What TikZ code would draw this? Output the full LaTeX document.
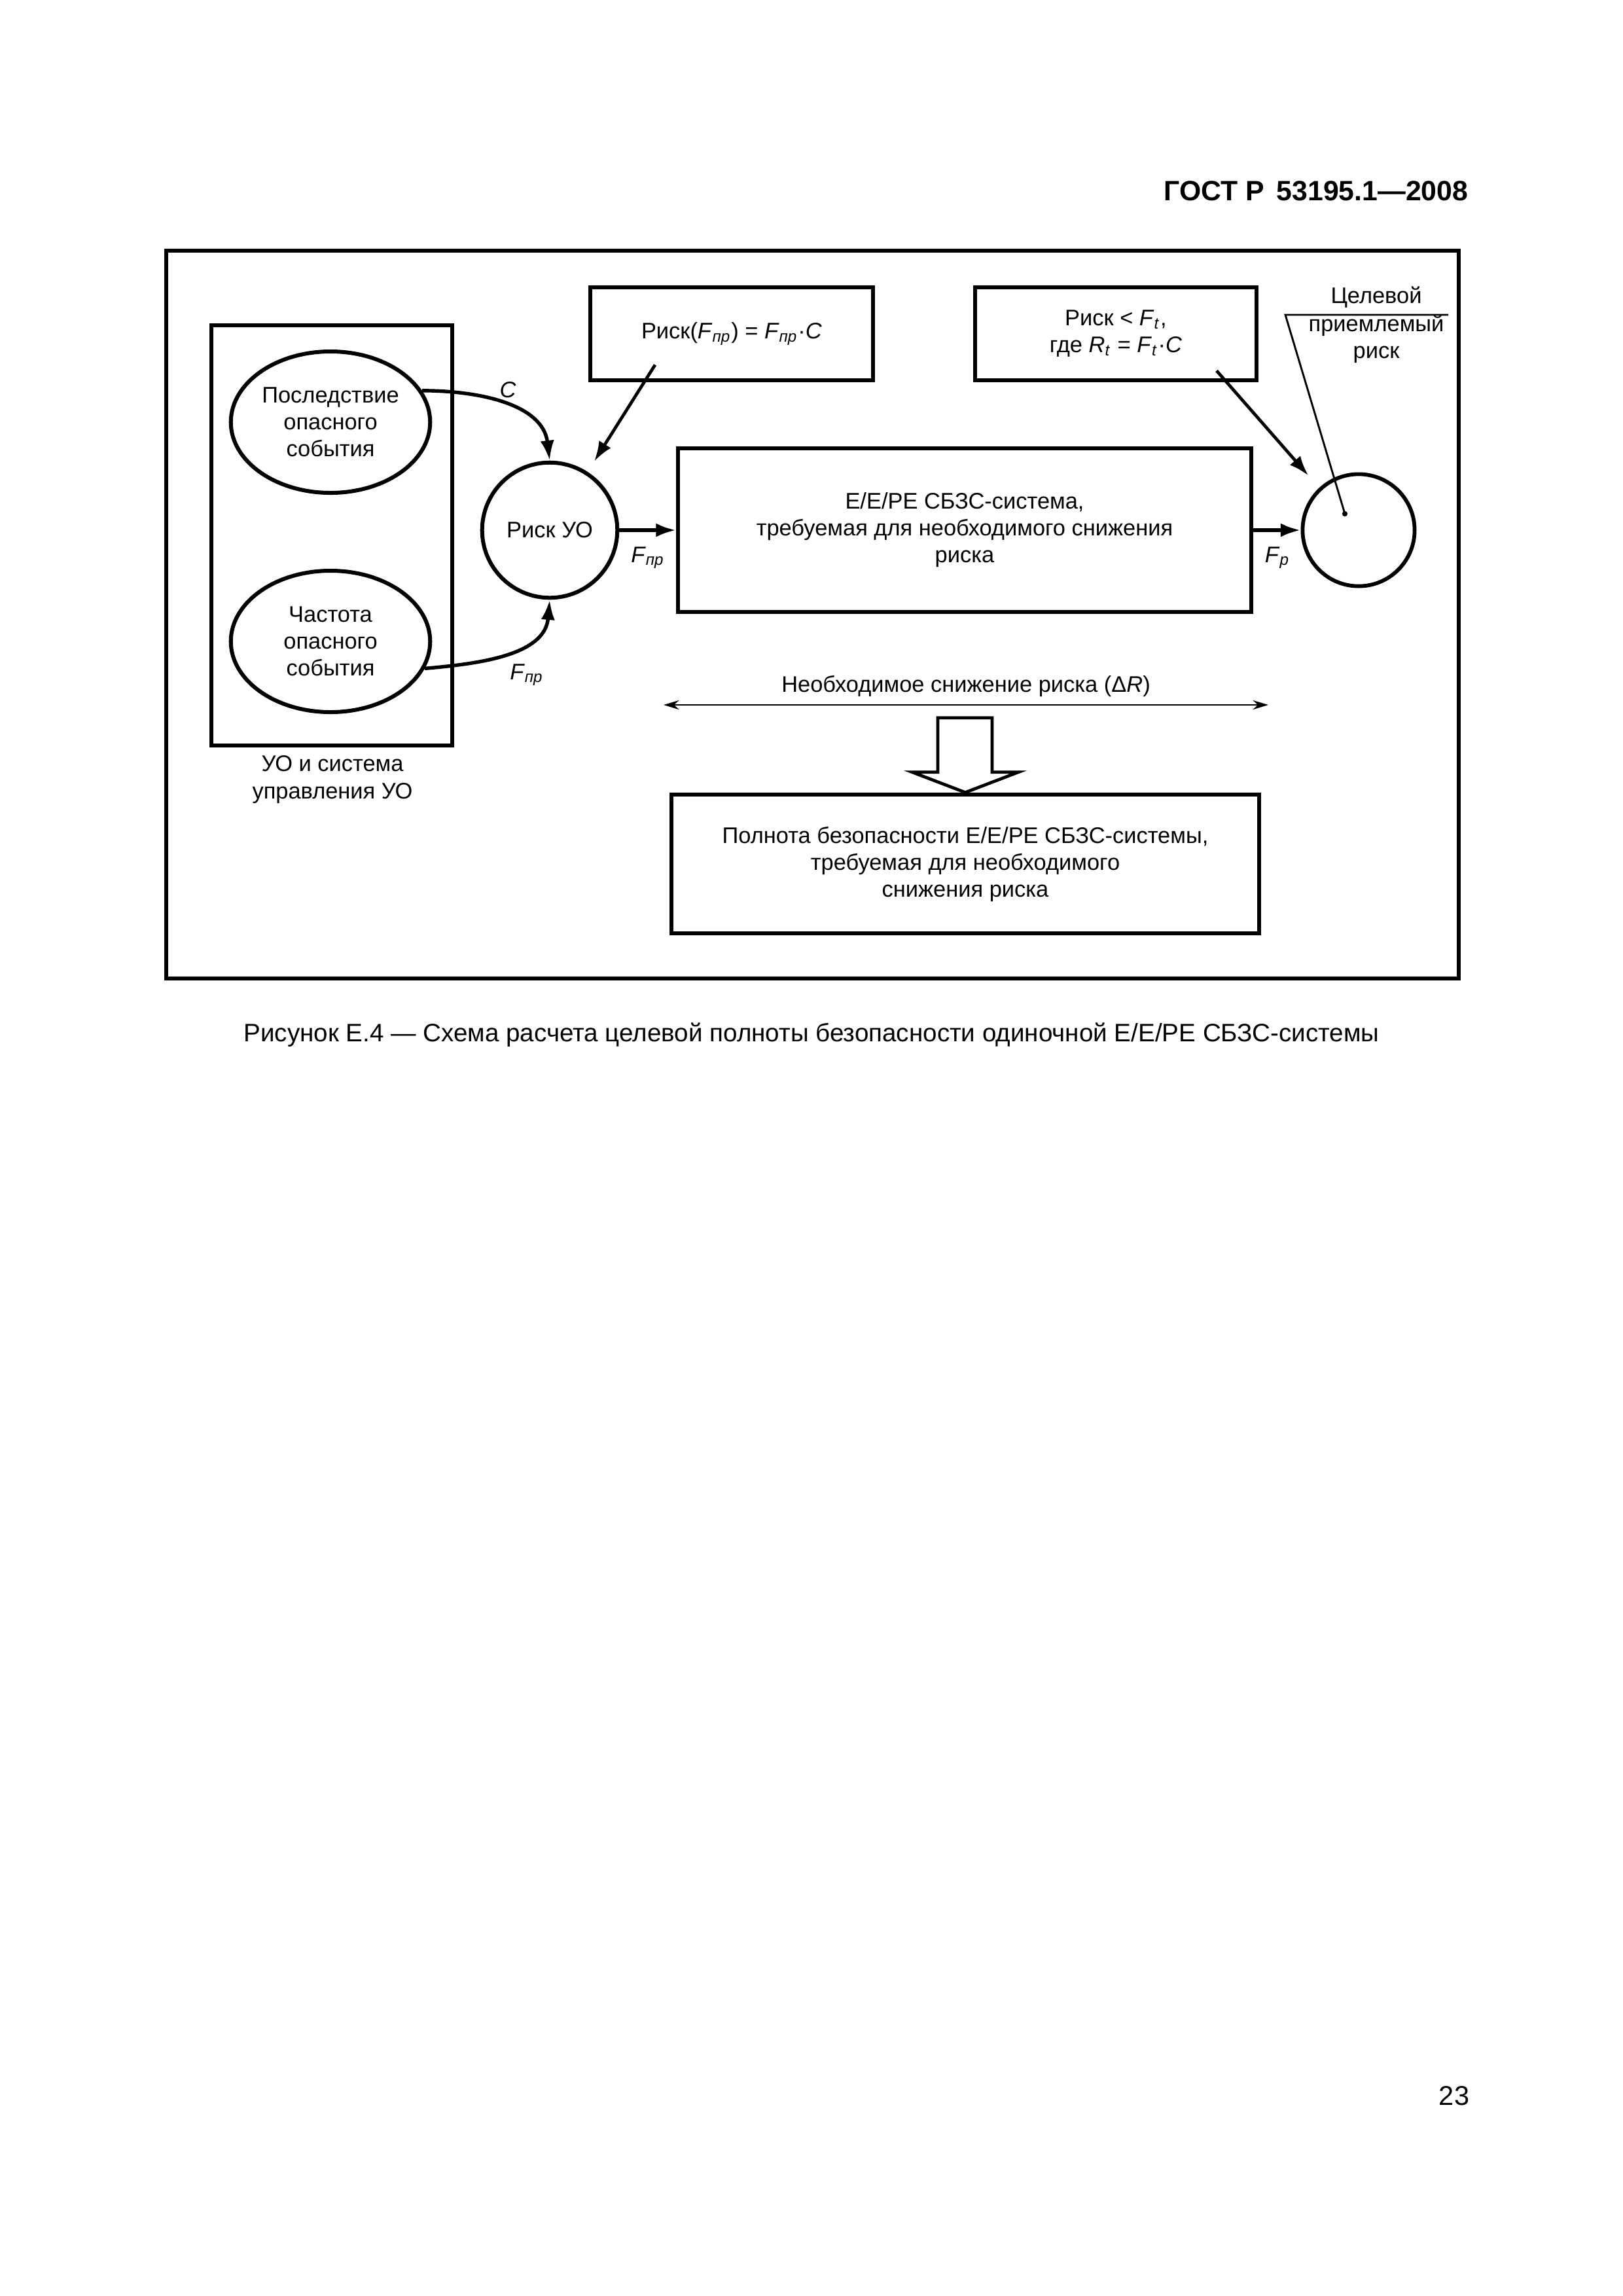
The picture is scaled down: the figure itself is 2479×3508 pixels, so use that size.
\documentclass[tikz,border=0pt]{standalone}
\usepackage{fontspec}
\setmainfont{Liberation Sans}
\usepackage{tikz}
\usetikzlibrary{positioning}
\usetikzlibrary{arrows.meta,shapes}
\usetikzlibrary{calc}
\tikzstyle{blk}=[rectangle,draw,line width=1.45pt,align=center,inner sep=0pt]
\tikzstyle{oval}=[ellipse,draw,line width=1.45pt,align=center,inner sep=0pt]
\tikzstyle{flow}=[draw,line width=1.3pt,-{Latex[length=2.6mm,width=1.8mm]}]
\tikzstyle{slim}=[draw,line width=0.7pt]
\tikzstyle{txt}=[font=\fontsize{8.3}{9.9}\selectfont,align=center,inner sep=0pt]
\newcommand{\Fpr}{\textit{F}\textsubscript{\textit{пр}}}
\newcommand{\Ft}{\textit{F}\textsubscript{\textit{t}}}
\newcommand{\Rt}{\textit{R}\textsubscript{\textit{t}}}
\newcommand{\Fp}{\textit{F}\textsubscript{\textit{p}}}

\begin{document}
\begin{tikzpicture}[x=0.08471mm,y=0.08471mm,every node/.style={txt}]
  \useasboundingbox (0,0) rectangle (2479,-3508);

  % page head and frame
  \node[anchor=base east,font=\fontsize{10.3}{12}\selectfont\bfseries] (head) at (2244,-306) {ГОСТ Р\, 53195.1—2008};
  \draw[line width=1.5pt] (254,-383) rectangle (2229,-1495);

  % object under control
  \node[blk,minimum width=31.1mm,minimum height=54.4mm] (uo) at (507,-818) {};
  \node[oval,minimum width=25.8mm,minimum height=18.3mm] (conseq) at (505,-645) {Последствие\\опасного\\события};
  \node[oval,minimum width=25.8mm,minimum height=18.3mm] (freq) at (505,-980) {Частота\\опасного\\события};
  \node (uolbl) at (508,-1191) {УО и система\\управления УО};

  \node[circle,draw,line width=1.45pt,minimum size=17.5mm] (riskuo) at (840,-810) {Риск УО};
  \node[blk,minimum width=36.6mm,minimum height=12.1mm] (formula) at (1118,-510) {Риск(\Fpr) = \Fpr·\textit{C}};
  \node[blk,minimum width=74.2mm,minimum height=21.2mm] (eepe) at (1474,-810) {Е/Е/РЕ СБЗС-система,\\требуемая для необходимого снижения\\риска};
  \node[blk,minimum width=36.5mm,minimum height=12.1mm] (tolerable) at (1705,-510) {Риск < \Ft,\\где \Rt{} = \Ft·\textit{C}};
  \node[circle,draw,line width=1.4pt,minimum size=14.5mm] (target) at (2076,-810) {};

  % target risk callout
  \node (tgt1) at (2103,-454) {Целевой};
  \node (tgt2) at (2103,-518) {приемлемый\\риск};
  \coordinate (kink) at (1964,-481);
  \coordinate (kinkend) at (2213,-481);
  \node[circle,fill,minimum size=0.7mm] (dot) at (2055,-785) {};
  \draw[slim] (kinkend) -- (kink) -- (dot.center);

  \draw[flow] (conseq.19) to[out=0,in=97] (riskuo.north);
  \draw[flow] (freq.-16) to[out=5,in=-95] (riskuo.south);
  \draw[flow] (riskuo.east) -- (eepe.west);
  \draw[flow] (eepe.east) -- (target.west);
  \draw[flow,line width=1.15pt,shorten >=1.6mm] ($(formula.south)+(-117,27)$) -- (riskuo.57);
  \draw[flow,line width=1.15pt,shorten >=2.1mm] ($(tolerable.south)+(154,18)$) -- (target.133);

  \node[font=\fontsize{8.3}{9.9}\selectfont\itshape] (lblC) at (776,-596) {C};
  \node (lblF1) at (990,-852) {\Fpr};
  \node (lblF2) at (805,-1031) {\Fpr};
  \node (lblFp) at (1952,-852) {\Fp};

  % required risk reduction
  \node (need) at (1476,-1048) {Необходимое снижение риска (Δ\textit{R})};
  \coordinate (dl) at (1014,-1077);
  \coordinate (dr) at (1938,-1077);
  \draw[slim,{Stealth[length=2mm,width=1.2mm]}-{Stealth[length=2mm,width=1.2mm]}] (dl) -- (dr);
  \node[blk,minimum width=76.1mm,minimum height=18.0mm] (integ) at (1475,-1320) {Полнота безопасности Е/Е/РЕ СБЗС-системы,\\требуемая для необходимого\\снижения риска};
  \draw[line width=1.15pt] (integ.north) -- ++(-81,31) -- ++(39,0) -- ++(0,83) -- ++(83,0) -- ++(0,-83) -- ++(40,0) -- cycle;

  \node[font=\fontsize{9.3}{11}\selectfont] (caption) at (1240,-1581) {Рисунок Е.4 — Схема расчета целевой полноты безопасности одиночной Е/Е/РЕ СБЗС-системы};
  \node[font=\fontsize{10}{12}\selectfont] (pageno) at (2222,-3202) {23};
\end{tikzpicture}
\end{document}
